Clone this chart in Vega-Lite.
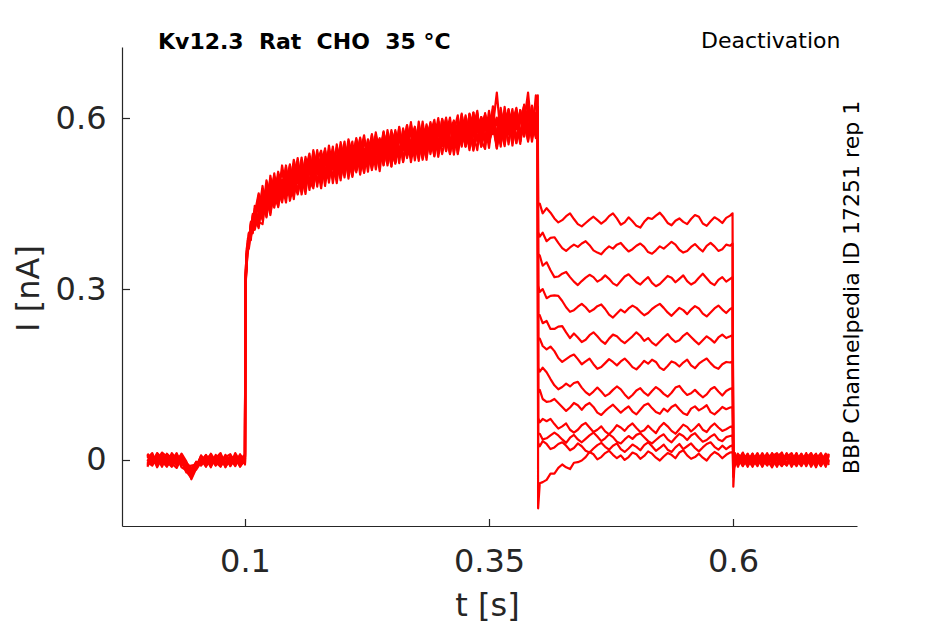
{
  "$schema": "https://vega.github.io/schema/vega-lite/v6.json",
  "width": 735,
  "height": 479,
  "autosize": {"type": "none"},
  "padding": {"left": 122, "top": 47, "right": 88, "bottom": 98},
  "background": "white",
  "config": {
    "view": {"stroke": null},
    "font": "DejaVu Sans",
    "axis": {
      "grid": false,
      "domainColor": "#262626",
      "tickColor": "#262626",
      "labelColor": "#262626",
      "titleColor": "#262626",
      "labelFont": "DejaVu Sans",
      "titleFont": "DejaVu Sans",
      "labelFontSize": 32,
      "titleFontSize": 32,
      "titleFontWeight": "normal",
      "domainWidth": 1.2,
      "tickWidth": 1.2,
      "tickSize": -7.5
    }
  },
  "title": {
    "text": "Kv12.3\u00a0\u00a0Rat\u00a0\u00a0CHO\u00a0\u00a035\u00a0°C",
    "anchor": "start",
    "frame": "group",
    "dx": 36,
    "offset": -42,
    "baseline": "alphabetic",
    "font": "DejaVu Sans",
    "fontSize": 22,
    "fontWeight": "bold",
    "color": "black"
  },
  "data": {
    "values": [
      {"t":0,"a":0.008,"b":-0.009,"c":0.003,"d":-0.004,"e":0.011,"f":-0.007,"g":0.001,"h":0.005,"i":-0.012,"j":0.009,"k":-0.003,"l":-0.006},
      {"t":0.005,"a":-0.006,"b":0.005,"c":0.012,"d":-0.010,"e":0,"f":0.008,"g":-0.008,"h":0.003,"i":0.007,"j":-0.005,"k":0.010,"l":-0.002},
      {"t":0.01,"a":0.012,"b":-0.003,"c":-0.008,"d":0.006,"e":-0.009,"f":-0.013,"g":0.005,"h":-0.005,"i":0.002,"j":0.011,"k":-0.010,"l":0.004},
      {"t":0.015,"a":0.003,"b":0.013,"c":-0.001,"d":-0.012,"e":0.007,"f":0.003,"g":-0.002,"h":0.012,"i":-0.006,"j":-0.004,"k":0.007,"l":-0.010},
      {"t":0.02,"a":-0.010,"b":0.006,"c":0.009,"d":0.011,"e":-0.005,"f":0.001,"g":-0.012,"h":-0.003,"i":0.009,"j":0.003,"k":-0.007,"l":0.010},
      {"t":0.025,"a":-0.002,"b":-0.011,"c":-0.006,"d":0.002,"e":0.009,"f":-0.009,"g":0.006,"h":-0.012,"i":-0.002,"j":0.008,"k":0.012,"l":-0.001},
      {"t":0.03,"a":0.007,"b":-0.001,"c":-0.014,"d":0.005,"e":-0.010,"f":0.010,"g":-0.004,"h":0.007,"i":0.012,"j":-0.009,"k":0.002,"l":-0.006},
      {"t":0.035,"a":-0.013,"b":0.009,"c":0.004,"d":-0.008,"e":0.006,"f":-0.004,"g":0.011,"h":-0.007,"i":-0.009,"j":0.004,"k":-0.002,"l":0.008},
      {"t":0.04,"a":-0.018,"b":-0.006,"c":-0.020,"d":-0.007,"e":-0.012,"f":-0.022,"g":-0.003,"h":-0.013,"i":-0.006,"j":-0.016,"k":-0.009,"l":-0.005},
      {"t":0.045,"a":-0.024,"b":-0.014,"c":-0.032,"d":-0.016,"e":-0.026,"f":-0.018,"g":-0.034,"h":-0.010,"i":-0.022,"j":-0.019,"k":-0.028,"l":-0.015},
      {"t":0.05,"a":-0.009,"b":-0.017,"c":-0.012,"d":-0.004,"e":-0.014,"f":-0.007,"g":-0.015,"h":-0.008,"i":-0.003,"j":-0.012,"k":-0.005,"l":-0.009},
      {"t":0.055,"a":0.004,"b":-0.004,"c":0.007,"d":-0.009,"e":0.001,"f":-0.005,"g":0.008,"h":-0.002,"i":-0.010,"j":0.004,"k":-0.007,"l":0.001},
      {"t":0.06,"a":-0.005,"b":0.008,"c":-0.011,"d":0.003,"e":-0.012,"f":0.007,"g":-0.003,"h":0.009,"i":0.001,"j":-0.008,"k":0.004,"l":-0.010},
      {"t":0.065,"a":0.011,"b":-0.008,"c":0.002,"d":-0.013,"e":0.006,"f":-0.009,"g":0.004,"h":-0.006,"i":0.009,"j":-0.002,"k":-0.011,"l":0.003},
      {"t":0.07,"a":-0.003,"b":0.003,"c":-0.007,"d":0.009,"e":-0.004,"f":0.002,"g":-0.010,"h":0.004,"i":-0.008,"j":0.007,"k":0.001,"l":-0.009},
      {"t":0.075,"a":-0.012,"b":0.012,"c":0.006,"d":-0.004,"e":0.010,"f":-0.007,"g":0.003,"h":-0.011,"i":0.005,"j":-0.005,"k":0.008,"l":-0.003},
      {"t":0.08,"a":0.005,"b":-0.010,"c":-0.013,"d":0.004,"e":-0.007,"f":0.009,"g":-0.006,"h":0.002,"i":-0.012,"j":0.003,"k":-0.005,"l":0.007},
      {"t":0.085,"a":0.010,"b":-0.002,"c":0.003,"d":-0.009,"e":0.002,"f":-0.011,"g":0.008,"h":-0.005,"i":0.004,"j":-0.010,"k":0.006,"l":-0.001},
      {"t":0.09,"a":-0.007,"b":0.006,"c":-0.005,"d":0.012,"e":-0.011,"f":0.003,"g":-0.001,"h":0.008,"i":-0.004,"j":0.005,"k":-0.008,"l":0.004},
      {"t":0.095,"a":0.002,"b":-0.012,"c":0.010,"d":-0.003,"e":0.005,"f":-0.002,"g":-0.008,"h":-0.010,"i":0.007,"j":-0.006,"k":0.003,"l":-0.011},
      {"t":0.1,"a":0.009,"b":0.001,"c":-0.004,"d":0.006,"e":-0.006,"f":0.007,"g":0.005,"h":-0.001,"i":-0.008,"j":0.010,"k":-0.004,"l":0.002},
      {"t":0.1003,"a":0.284,"b":0.296,"c":0.281,"d":0.299,"e":0.290,"f":0.287,"g":0.293,"h":0.279,"i":0.297,"j":0.286,"k":0.294,"l":0.283},
      {"t":0.101,"a":0.322,"b":0.338,"c":0.327,"d":0.341,"e":0.331,"f":0.318,"g":0.335,"h":0.325,"i":0.340,"j":0.329,"k":0.320,"l":0.334},
      {"t":0.102,"a":0.355,"b":0.368,"c":0.349,"d":0.372,"e":0.362,"f":0.351,"g":0.366,"h":0.358,"i":0.374,"j":0.353,"k":0.363,"l":0.347},
      {"t":0.103,"a":0.381,"b":0.370,"c":0.385,"d":0.366,"e":0.377,"f":0.389,"g":0.368,"h":0.380,"i":0.372,"j":0.386,"k":0.364,"l":0.379},
      {"t":0.104,"a":0.378,"b":0.394,"c":0.373,"d":0.398,"e":0.382,"f":0.376,"g":0.397,"h":0.371,"i":0.390,"j":0.380,"k":0.399,"l":0.387},
      {"t":0.106,"a":0.411,"b":0.395,"c":0.416,"d":0.389,"e":0.405,"f":0.418,"g":0.392,"h":0.407,"i":0.386,"j":0.413,"k":0.399,"l":0.396},
      {"t":0.108,"a":0.404,"b":0.428,"c":0.410,"d":0.432,"e":0.401,"f":0.422,"g":0.419,"h":0.398,"i":0.430,"j":0.407,"k":0.425,"l":0.412},
      {"t":0.11,"a":0.441,"b":0.419,"c":0.433,"d":0.408,"e":0.446,"f":0.427,"g":0.411,"h":0.438,"i":0.420,"j":0.404,"k":0.436,"l":0.429},
      {"t":0.114,"a":0.450,"b":0.413,"c":0.468,"d":0.430,"e":0.441,"f":0.407,"g":0.457,"h":0.424,"i":0.465,"j":0.435,"k":0.418,"l":0.446},
      {"t":0.118,"a":0.430,"b":0.470,"c":0.442,"d":0.481,"e":0.421,"f":0.457,"g":0.446,"h":0.476,"i":0.433,"j":0.465,"k":0.414,"l":0.452},
      {"t":0.122,"a":0.483,"b":0.445,"c":0.470,"d":0.426,"e":0.477,"f":0.452,"g":0.432,"h":0.462,"i":0.491,"j":0.437,"k":0.466,"l":0.428},
      {"t":0.126,"a":0.458,"b":0.494,"c":0.434,"d":0.479,"e":0.450,"f":0.488,"g":0.471,"h":0.430,"i":0.462,"j":0.487,"k":0.446,"l":0.499},
      {"t":0.13,"a":0.489,"b":0.453,"c":0.473,"d":0.447,"e":0.503,"f":0.460,"g":0.498,"h":0.480,"i":0.443,"j":0.462,"k":0.492,"l":0.457},
      {"t":0.134,"a":0.444,"b":0.481,"c":0.499,"d":0.476,"e":0.455,"f":0.506,"g":0.461,"h":0.468,"i":0.489,"j":0.446,"k":0.475,"l":0.495},
      {"t":0.138,"a":0.488,"b":0.456,"c":0.465,"d":0.507,"e":0.485,"f":0.478,"g":0.517,"h":0.459,"i":0.470,"j":0.492,"k":0.452,"l":0.475},
      {"t":0.142,"a":0.470,"b":0.502,"c":0.517,"d":0.467,"e":0.452,"f":0.498,"g":0.476,"h":0.509,"i":0.488,"j":0.463,"k":0.500,"l":0.514},
      {"t":0.146,"a":0.519,"b":0.483,"c":0.464,"d":0.498,"e":0.507,"f":0.462,"g":0.490,"h":0.477,"i":0.517,"j":0.495,"k":0.473,"l":0.455},
      {"t":0.15,"a":0.470,"b":0.518,"c":0.500,"d":0.458,"e":0.489,"f":0.512,"g":0.463,"h":0.527,"i":0.480,"j":0.493,"k":0.520,"l":0.485},
      {"t":0.154,"a":0.501,"b":0.466,"c":0.515,"d":0.520,"e":0.475,"f":0.486,"g":0.509,"h":0.494,"i":0.468,"j":0.530,"k":0.490,"l":0.513},
      {"t":0.158,"a":0.516,"b":0.502,"c":0.466,"d":0.487,"e":0.526,"f":0.505,"g":0.481,"h":0.520,"i":0.508,"j":0.475,"k":0.531,"l":0.473},
      {"t":0.162,"a":0.475,"b":0.516,"c":0.504,"d":0.532,"e":0.494,"f":0.467,"g":0.526,"h":0.487,"i":0.520,"j":0.513,"k":0.483,"l":0.507},
      {"t":0.166,"a":0.528,"b":0.486,"c":0.533,"d":0.501,"e":0.517,"f":0.522,"g":0.474,"h":0.512,"i":0.482,"j":0.491,"k":0.508,"l":0.538},
      {"t":0.17,"a":0.499,"b":0.541,"c":0.491,"d":0.528,"e":0.480,"f":0.509,"g":0.518,"h":0.482,"i":0.544,"j":0.477,"k":0.527,"l":0.495},
      {"t":0.174,"a":0.544,"b":0.502,"c":0.521,"d":0.485,"e":0.526,"f":0.488,"g":0.506,"h":0.539,"i":0.504,"j":0.532,"k":0.480,"l":0.519},
      {"t":0.178,"a":0.496,"b":0.533,"c":0.485,"d":0.519,"e":0.543,"f":0.525,"g":0.490,"h":0.503,"i":0.526,"j":0.510,"k":0.538,"l":0.477},
      {"t":0.182,"a":0.518,"b":0.481,"c":0.537,"d":0.497,"e":0.504,"f":0.544,"g":0.531,"h":0.547,"i":0.495,"j":0.542,"k":0.506,"l":0.527},
      {"t":0.186,"a":0.543,"b":0.527,"c":0.505,"d":0.552,"e":0.493,"f":0.500,"g":0.522,"h":0.487,"i":0.540,"j":0.501,"k":0.531,"l":0.514},
      {"t":0.19,"a":0.486,"b":0.516,"c":0.535,"d":0.510,"e":0.527,"f":0.543,"g":0.493,"h":0.537,"i":0.515,"j":0.550,"k":0.496,"l":0.546},
      {"t":0.194,"a":0.532,"b":0.548,"c":0.500,"d":0.535,"e":0.486,"f":0.515,"g":0.554,"h":0.508,"i":0.529,"j":0.496,"k":0.527,"l":0.503},
      {"t":0.198,"a":0.503,"b":0.509,"c":0.558,"d":0.495,"e":0.543,"f":0.533,"g":0.512,"h":0.547,"i":0.491,"j":0.538,"k":0.553,"l":0.525},
      {"t":0.202,"a":0.554,"b":0.541,"c":0.518,"d":0.528,"e":0.509,"f":0.496,"g":0.546,"h":0.520,"i":0.551,"j":0.515,"k":0.504,"l":0.559},
      {"t":0.206,"a":0.520,"b":0.500,"c":0.551,"d":0.554,"e":0.531,"f":0.545,"g":0.494,"h":0.540,"i":0.513,"j":0.563,"k":0.538,"l":0.503},
      {"t":0.21,"a":0.545,"b":0.534,"c":0.499,"d":0.514,"e":0.559,"f":0.517,"g":0.536,"h":0.501,"i":0.548,"j":0.533,"k":0.497,"l":0.549},
      {"t":0.214,"a":0.505,"b":0.563,"c":0.540,"d":0.553,"e":0.508,"f":0.565,"g":0.514,"h":0.534,"i":0.524,"j":0.509,"k":0.548,"l":0.522},
      {"t":0.218,"a":0.539,"b":0.512,"c":0.514,"d":0.501,"e":0.546,"f":0.530,"g":0.560,"h":0.564,"i":0.566,"j":0.542,"k":0.521,"l":0.548},
      {"t":0.222,"a":0.570,"b":0.547,"c":0.562,"d":0.543,"e":0.529,"f":0.510,"g":0.530,"h":0.517,"i":0.511,"j":0.505,"k":0.560,"l":0.504},
      {"t":0.226,"a":0.525,"b":0.506,"c":0.540,"d":0.516,"e":0.562,"f":0.552,"g":0.555,"h":0.546,"i":0.549,"j":0.557,"k":0.533,"l":0.563},
      {"t":0.23,"a":0.558,"b":0.563,"c":0.514,"d":0.570,"e":0.509,"f":0.531,"g":0.511,"h":0.515,"i":0.537,"j":0.526,"k":0.572,"l":0.538},
      {"t":0.234,"a":0.510,"b":0.542,"c":0.554,"d":0.535,"e":0.550,"f":0.568,"g":0.553,"h":0.575,"i":0.571,"j":0.567,"k":0.523,"l":0.559},
      {"t":0.238,"a":0.551,"b":0.526,"c":0.507,"d":0.560,"e":0.565,"f":0.523,"g":0.524,"h":0.536,"i":0.526,"j":0.538,"k":0.551,"l":0.521},
      {"t":0.242,"a":0.541,"b":0.573,"c":0.564,"d":0.518,"e":0.530,"f":0.548,"g":0.574,"h":0.559,"i":0.551,"j":0.577,"k":0.517,"l":0.575},
      {"t":0.246,"a":0.570,"b":0.537,"c":0.536,"d":0.558,"e":0.579,"f":0.567,"g":0.539,"h":0.517,"i":0.521,"j":0.528,"k":0.567,"l":0.535},
      {"t":0.25,"a":0.531,"b":0.568,"c":0.579,"d":0.515,"e":0.544,"f":0.516,"g":0.571,"h":0.554,"i":0.569,"j":0.558,"k":0.545,"l":0.555},
      {"t":0.254,"a":0.579,"b":0.523,"c":0.546,"d":0.574,"e":0.522,"f":0.560,"g":0.535,"h":0.576,"i":0.538,"j":0.522,"k":0.563,"l":0.520},
      {"t":0.258,"a":0.543,"b":0.564,"c":0.568,"d":0.540,"e":0.569,"f":0.535,"g":0.585,"h":0.534,"i":0.583,"j":0.570,"k":0.521,"l":0.574},
      {"t":0.262,"a":0.565,"b":0.551,"c":0.524,"d":0.556,"e":0.559,"f":0.582,"g":0.528,"h":0.574,"i":0.523,"j":0.543,"k":0.579,"l":0.546},
      {"t":0.266,"a":0.530,"b":0.588,"c":0.560,"d":0.534,"e":0.535,"f":0.553,"g":0.557,"h":0.542,"i":0.570,"j":0.582,"k":0.539,"l":0.587},
      {"t":0.27,"a":0.560,"b":0.542,"c":0.538,"d":0.589,"e":0.584,"f":0.529,"g":0.576,"h":0.593,"i":0.550,"j":0.523,"k":0.561,"l":0.540},
      {"t":0.274,"a":0.585,"b":0.576,"c":0.582,"d":0.553,"e":0.547,"f":0.576,"g":0.526,"h":0.536,"i":0.583,"j":0.563,"k":0.533,"l":0.568},
      {"t":0.278,"a":0.544,"b":0.530,"c":0.550,"d":0.574,"e":0.582,"f":0.547,"g":0.568,"h":0.562,"i":0.538,"j":0.539,"k":0.594,"l":0.525},
      {"t":0.282,"a":0.581,"b":0.568,"c":0.594,"d":0.531,"e":0.527,"f":0.586,"g":0.544,"h":0.530,"i":0.571,"j":0.585,"k":0.552,"l":0.579},
      {"t":0.286,"a":0.532,"b":0.586,"c":0.547,"d":0.570,"e":0.563,"f":0.540,"g":0.589,"h":0.577,"i":0.527,"j":0.549,"k":0.581,"l":0.556},
      {"t":0.29,"a":0.573,"b":0.543,"c":0.573,"d":0.587,"e":0.578,"f":0.572,"g":0.554,"h":0.553,"i":0.585,"j":0.593,"k":0.537,"l":0.591},
      {"t":0.294,"a":0.597,"b":0.578,"c":0.533,"d":0.547,"e":0.539,"f":0.534,"g":0.581,"h":0.590,"i":0.561,"j":0.539,"k":0.575,"l":0.541},
      {"t":0.298,"a":0.554,"b":0.532,"c":0.587,"d":0.594,"e":0.594,"f":0.581,"g":0.540,"h":0.550,"i":0.600,"j":0.579,"k":0.546,"l":0.578},
      {"t":0.302,"a":0.585,"b":0.570,"c":0.561,"d":0.557,"e":0.552,"f":0.559,"g":0.599,"h":0.597,"i":0.551,"j":0.561,"k":0.598,"l":0.537},
      {"t":0.306,"a":0.543,"b":0.598,"c":0.597,"d":0.587,"e":0.578,"f":0.601,"g":0.565,"h":0.542,"i":0.576,"j":0.592,"k":0.556,"l":0.571},
      {"t":0.31,"a":0.576,"b":0.557,"c":0.549,"d":0.542,"e":0.537,"f":0.550,"g":0.594,"h":0.581,"i":0.540,"j":0.538,"k":0.593,"l":0.601},
      {"t":0.314,"a":0.596,"b":0.591,"c":0.582,"d":0.577,"e":0.589,"f":0.577,"g":0.536,"h":0.590,"i":0.590,"j":0.579,"k":0.541,"l":0.552},
      {"t":0.318,"a":0.537,"b":0.564,"c":0.544,"d":0.605,"e":0.564,"f":0.545,"g":0.585,"h":0.539,"i":0.561,"j":0.554,"k":0.586,"l":0.595},
      {"t":0.322,"a":0.585,"b":0.608,"c":0.591,"d":0.550,"e":0.599,"f":0.597,"g":0.553,"h":0.581,"i":0.602,"j":0.606,"k":0.568,"l":0.563},
      {"t":0.326,"a":0.555,"b":0.550,"c":0.559,"d":0.585,"e":0.552,"f":0.570,"g":0.605,"h":0.552,"i":0.550,"j":0.573,"k":0.602,"l":0.590},
      {"t":0.33,"a":0.606,"b":0.584,"c":0.607,"d":0.544,"e":0.578,"f":0.589,"g":0.564,"h":0.608,"i":0.588,"j":0.593,"k":0.553,"l":0.548},
      {"t":0.334,"a":0.570,"b":0.546,"c":0.572,"d":0.598,"e":0.610,"f":0.543,"g":0.582,"h":0.573,"i":0.545,"j":0.550,"k":0.583,"l":0.610},
      {"t":0.338,"a":0.592,"b":0.595,"c":0.544,"d":0.579,"e":0.559,"f":0.605,"g":0.613,"h":0.596,"i":0.581,"j":0.604,"k":0.609,"l":0.563},
      {"t":0.342,"a":0.550,"b":0.576,"c":0.602,"d":0.559,"e":0.589,"f":0.569,"g":0.551,"h":0.550,"i":0.602,"j":0.569,"k":0.561,"l":0.586},
      {"t":0.346,"a":0.601,"b":0.606,"c":0.587,"d":0.609,"e":0.553,"f":0.599,"g":0.590,"h":0.592,"i":0.561,"j":0.591,"k":0.546,"l":0.606},
      {"t":0.35,"a":0.578,"b":0.561,"c":0.558,"d":0.568,"e":0.601,"f":0.557,"g":0.562,"h":0.568,"i":0.613,"j":0.548,"k":0.603,"l":0.556},
      {"t":0.354,"a":0.616,"b":0.587,"c":0.608,"d":0.597,"e":0.572,"f":0.586,"g":0.606,"h":0.621,"i":0.574,"j":0.602,"k":0.575,"l":0.593},
      {"t":0.358,"a":0.561,"b":0.547,"c":0.569,"d":0.552,"e":0.597,"f":0.645,"g":0.547,"h":0.562,"i":0.599,"j":0.567,"k":0.601,"l":0.551},
      {"t":0.362,"a":0.592,"b":0.606,"c":0.618,"d":0.608,"e":0.550,"f":0.568,"g":0.587,"h":0.589,"i":0.556,"j":0.613,"k":0.555,"l":0.604},
      {"t":0.366,"a":0.554,"b":0.573,"c":0.565,"d":0.579,"e":0.611,"f":0.606,"g":0.613,"h":0.551,"i":0.595,"j":0.580,"k":0.620,"l":0.577},
      {"t":0.37,"a":0.602,"b":0.616,"c":0.586,"d":0.605,"e":0.571,"f":0.554,"g":0.572,"h":0.608,"i":0.613,"j":0.608,"k":0.574,"l":0.615},
      {"t":0.374,"a":0.573,"b":0.564,"c":0.616,"d":0.552,"e":0.590,"f":0.598,"g":0.607,"h":0.578,"i":0.564,"j":0.558,"k":0.599,"l":0.567},
      {"t":0.378,"a":0.614,"b":0.598,"c":0.561,"d":0.597,"e":0.618,"f":0.581,"g":0.557,"h":0.616,"i":0.592,"j":0.597,"k":0.556,"l":0.613},
      {"t":0.382,"a":0.565,"b":0.560,"c":0.602,"d":0.563,"e":0.568,"f":0.614,"g":0.596,"h":0.572,"i":0.555,"j":0.567,"k":0.614,"l":0.559},
      {"t":0.386,"a":0.594,"b":0.615,"c":0.568,"d":0.622,"e":0.602,"f":0.568,"g":0.622,"h":0.600,"i":0.609,"j":0.624,"k":0.581,"l":0.596},
      {"t":0.39,"a":0.645,"b":0.575,"c":0.610,"d":0.577,"e":0.561,"f":0.625,"g":0.574,"h":0.559,"i":0.579,"j":0.578,"k":0.610,"l":0.564},
      {"t":0.394,"a":0.573,"b":0.610,"c":0.559,"d":0.613,"e":0.614,"f":0.580,"g":0.604,"h":0.610,"i":0.621,"j":0.598,"k":0.565,"l":0.622},
      {"t":0.398,"a":0.602,"b":0.585,"c":0.600,"d":0.573,"e":0.584,"f":0.609,"g":0.568,"h":0.586,"i":0.576,"j":0.565,"k":0.640,"l":0.579},
      {"t":0.4,"a":0.615,"b":0.596,"c":0.640,"d":0.588,"e":0.603,"f":0.575,"g":0.610,"h":0.598,"i":0.582,"j":0.605,"k":0.592,"l":0.620},
      {"t":0.4003,"a":0.448,"b":0.400,"c":0.362,"d":0.306,"e":0.256,"f":0.212,"g":0.162,"h":0.118,"i":0.074,"j":0.046,"k":0.030,"l":-0.085},
      {"t":0.402,"a":0.450,"b":0.392,"c":0.359,"d":0.295,"e":0.254,"f":0.213,"g":0.155,"h":0.123,"i":0.066,"j":0.046,"k":0.024,"l":-0.041},
      {"t":0.405,"a":0.433,"b":0.399,"c":0.341,"d":0.300,"e":0.240,"f":0.200,"g":0.162,"h":0.107,"i":0.072,"j":0.036,"k":0.033,"l":-0.039},
      {"t":0.409,"a":0.442,"b":0.384,"c":0.347,"d":0.284,"e":0.244,"f":0.194,"g":0.154,"h":0.102,"i":0.068,"j":0.038,"k":0.028,"l":-0.035},
      {"t":0.413,"a":0.434,"b":0.390,"c":0.333,"d":0.288,"e":0.230,"f":0.199,"g":0.142,"h":0.103,"i":0.072,"j":0.043,"k":0.019,"l":-0.024},
      {"t":0.417,"a":0.424,"b":0.391,"c":0.321,"d":0.289,"e":0.230,"f":0.191,"g":0.131,"h":0.107,"i":0.063,"j":0.048,"k":0.022,"l":-0.024},
      {"t":0.421,"a":0.417,"b":0.381,"c":0.322,"d":0.288,"e":0.234,"f":0.179,"g":0.124,"h":0.100,"i":0.055,"j":0.043,"k":0.028,"l":-0.014},
      {"t":0.425,"a":0.421,"b":0.372,"c":0.327,"d":0.279,"e":0.235,"f":0.172,"g":0.128,"h":0.093,"i":0.059,"j":0.036,"k":0.031,"l":-0.008},
      {"t":0.429,"a":0.428,"b":0.367,"c":0.330,"d":0.268,"e":0.224,"f":0.177,"g":0.134,"h":0.086,"i":0.064,"j":0.030,"k":0.025,"l":-0.013},
      {"t":0.433,"a":0.433,"b":0.373,"c":0.321,"d":0.260,"e":0.214,"f":0.182,"g":0.129,"h":0.092,"i":0.053,"j":0.039,"k":0.017,"l":-0.016},
      {"t":0.437,"a":0.423,"b":0.378,"c":0.313,"d":0.263,"e":0.222,"f":0.185,"g":0.135,"h":0.100,"i":0.048,"j":0.044,"k":0.021,"l":-0.005},
      {"t":0.441,"a":0.414,"b":0.374,"c":0.307,"d":0.269,"e":0.215,"f":0.177,"g":0.137,"h":0.096,"i":0.053,"j":0.036,"k":0.029,"l":-0.004},
      {"t":0.445,"a":0.410,"b":0.380,"c":0.314,"d":0.274,"e":0.207,"f":0.168,"g":0.127,"h":0.088,"i":0.061,"j":0.031,"k":0.024,"l":-0.001},
      {"t":0.449,"a":0.416,"b":0.384,"c":0.320,"d":0.268,"e":0.211,"f":0.173,"g":0.119,"h":0.096,"i":0.065,"j":0.037,"k":0.016,"l":0.005},
      {"t":0.453,"a":0.422,"b":0.377,"c":0.325,"d":0.260,"e":0.219,"f":0.178,"g":0.114,"h":0.100,"i":0.057,"j":0.043,"k":0.013,"l":0.014},
      {"t":0.457,"a":0.427,"b":0.368,"c":0.321,"d":0.264,"e":0.224,"f":0.168,"g":0.120,"h":0.093,"i":0.049,"j":0.048,"k":0.020,"l":0.010},
      {"t":0.461,"a":0.421,"b":0.364,"c":0.313,"d":0.270,"e":0.217,"f":0.160,"g":0.127,"h":0.083,"i":0.053,"j":0.041,"k":0.026,"l":0.001},
      {"t":0.465,"a":0.415,"b":0.361,"c":0.317,"d":0.273,"e":0.209,"f":0.163,"g":0.120,"h":0.079,"i":0.059,"j":0.033,"k":0.030,"l":0.005},
      {"t":0.469,"a":0.420,"b":0.369,"c":0.324,"d":0.265,"e":0.204,"f":0.170,"g":0.112,"h":0.086,"i":0.050,"j":0.038,"k":0.023,"l":0.012},
      {"t":0.473,"a":0.428,"b":0.375,"c":0.318,"d":0.255,"e":0.213,"f":0.177,"g":0.116,"h":0.092,"i":0.045,"j":0.045,"k":0.018,"l":0.016},
      {"t":0.477,"a":0.433,"b":0.371,"c":0.310,"d":0.250,"e":0.220,"f":0.172,"g":0.123,"h":0.097,"i":0.052,"j":0.040,"k":0.025,"l":0.009},
      {"t":0.481,"a":0.424,"b":0.378,"c":0.306,"d":0.257,"e":0.217,"f":0.166,"g":0.129,"h":0.090,"i":0.061,"j":0.032,"k":0.029,"l":0.003},
      {"t":0.485,"a":0.413,"b":0.381,"c":0.314,"d":0.264,"e":0.210,"f":0.173,"g":0.124,"h":0.083,"i":0.057,"j":0.029,"k":0.019,"l":0.008},
      {"t":0.489,"a":0.417,"b":0.373,"c":0.322,"d":0.259,"e":0.205,"f":0.178,"g":0.115,"h":0.089,"i":0.051,"j":0.036,"k":0.014,"l":0.000},
      {"t":0.493,"a":0.426,"b":0.366,"c":0.326,"d":0.266,"e":0.211,"f":0.171,"g":0.108,"h":0.094,"i":0.059,"j":0.042,"k":0.020,"l":0.005},
      {"t":0.497,"a":0.419,"b":0.370,"c":0.319,"d":0.271,"e":0.217,"f":0.163,"g":0.114,"h":0.085,"i":0.064,"j":0.037,"k":0.027,"l":0.013},
      {"t":0.501,"a":0.411,"b":0.376,"c":0.312,"d":0.267,"e":0.224,"f":0.159,"g":0.122,"h":0.080,"i":0.056,"j":0.044,"k":0.023,"l":0.010},
      {"t":0.505,"a":0.408,"b":0.380,"c":0.308,"d":0.260,"e":0.218,"f":0.166,"g":0.126,"h":0.088,"i":0.049,"j":0.047,"k":0.017,"l":0.002},
      {"t":0.509,"a":0.418,"b":0.374,"c":0.315,"d":0.254,"e":0.209,"f":0.174,"g":0.118,"h":0.096,"i":0.052,"j":0.040,"k":0.026,"l":0.007},
      {"t":0.513,"a":0.425,"b":0.365,"c":0.321,"d":0.258,"e":0.214,"f":0.169,"g":0.113,"h":0.099,"i":0.060,"j":0.033,"k":0.031,"l":0.015},
      {"t":0.517,"a":0.423,"b":0.362,"c":0.311,"d":0.265,"e":0.206,"f":0.176,"g":0.121,"h":0.091,"i":0.053,"j":0.029,"k":0.024,"l":0.011},
      {"t":0.521,"a":0.429,"b":0.368,"c":0.305,"d":0.270,"e":0.201,"f":0.172,"g":0.128,"h":0.084,"i":0.047,"j":0.035,"k":0.016,"l":0.004},
      {"t":0.525,"a":0.434,"b":0.375,"c":0.309,"d":0.274,"e":0.208,"f":0.162,"g":0.123,"h":0.081,"i":0.058,"j":0.041,"k":0.021,"l":-0.001},
      {"t":0.529,"a":0.426,"b":0.371,"c":0.316,"d":0.267,"e":0.215,"f":0.158,"g":0.116,"h":0.090,"i":0.065,"j":0.045,"k":0.027,"l":0.006},
      {"t":0.533,"a":0.416,"b":0.377,"c":0.323,"d":0.259,"e":0.221,"f":0.165,"g":0.111,"h":0.085,"i":0.059,"j":0.036,"k":0.018,"l":0.012},
      {"t":0.537,"a":0.412,"b":0.383,"c":0.320,"d":0.253,"e":0.213,"f":0.173,"g":0.118,"h":0.093,"i":0.051,"j":0.031,"k":0.014,"l":0.009},
      {"t":0.541,"a":0.420,"b":0.378,"c":0.312,"d":0.260,"e":0.207,"f":0.170,"g":0.127,"h":0.097,"i":0.046,"j":0.039,"k":0.022,"l":0.003},
      {"t":0.545,"a":0.424,"b":0.369,"c":0.318,"d":0.267,"e":0.210,"f":0.164,"g":0.130,"h":0.089,"i":0.054,"j":0.046,"k":0.028,"l":0.013},
      {"t":0.549,"a":0.418,"b":0.364,"c":0.324,"d":0.263,"e":0.218,"f":0.171,"g":0.121,"h":0.082,"i":0.062,"j":0.042,"k":0.019,"l":0.017},
      {"t":0.553,"a":0.414,"b":0.367,"c":0.314,"d":0.256,"e":0.223,"f":0.176,"g":0.114,"h":0.079,"i":0.058,"j":0.035,"k":0.024,"l":0.008},
      {"t":0.557,"a":0.423,"b":0.374,"c":0.308,"d":0.264,"e":0.216,"f":0.166,"g":0.117,"h":0.090,"i":0.050,"j":0.043,"k":0.029,"l":0.002},
      {"t":0.561,"a":0.430,"b":0.379,"c":0.312,"d":0.270,"e":0.209,"f":0.161,"g":0.123,"h":0.094,"i":0.056,"j":0.047,"k":0.021,"l":0.005},
      {"t":0.565,"a":0.427,"b":0.372,"c":0.320,"d":0.266,"e":0.203,"f":0.169,"g":0.116,"h":0.087,"i":0.063,"j":0.039,"k":0.015,"l":0.011},
      {"t":0.569,"a":0.415,"b":0.366,"c":0.327,"d":0.257,"e":0.210,"f":0.174,"g":0.110,"h":0.091,"i":0.053,"j":0.032,"k":0.022,"l":0.004},
      {"t":0.573,"a":0.411,"b":0.376,"c":0.319,"d":0.252,"e":0.217,"f":0.178,"g":0.115,"h":0.096,"i":0.049,"j":0.035,"k":0.028,"l":-0.001},
      {"t":0.577,"a":0.419,"b":0.381,"c":0.311,"d":0.259,"e":0.212,"f":0.170,"g":0.124,"h":0.084,"i":0.058,"j":0.041,"k":0.031,"l":0.008},
      {"t":0.581,"a":0.426,"b":0.375,"c":0.307,"d":0.266,"e":0.206,"f":0.163,"g":0.128,"h":0.080,"i":0.064,"j":0.045,"k":0.023,"l":0.014},
      {"t":0.585,"a":0.422,"b":0.367,"c":0.316,"d":0.271,"e":0.215,"f":0.160,"g":0.120,"h":0.086,"i":0.057,"j":0.036,"k":0.018,"l":0.010},
      {"t":0.589,"a":0.416,"b":0.370,"c":0.321,"d":0.264,"e":0.220,"f":0.168,"g":0.113,"h":0.093,"i":0.051,"j":0.033,"k":0.025,"l":0.003},
      {"t":0.593,"a":0.425,"b":0.378,"c":0.313,"d":0.258,"e":0.214,"f":0.172,"g":0.121,"h":0.089,"i":0.054,"j":0.040,"k":0.019,"l":0.009},
      {"t":0.597,"a":0.429,"b":0.376,"c":0.318,"d":0.265,"e":0.217,"f":0.171,"g":0.125,"h":0.092,"i":0.058,"j":0.042,"k":0.024,"l":0.013},
      {"t":0.5995,"a":0.433,"b":0.380,"c":0.321,"d":0.267,"e":0.219,"f":0.173,"g":0.126,"h":0.093,"i":0.059,"j":0.043,"k":0.026,"l":0.014},
      {"t":0.6003,"a":-0.047,"b":-0.020,"c":-0.012,"d":0.005,"e":-0.010,"f":0.002,"g":-0.015,"h":-0.005,"i":0.008,"j":-0.008,"k":0.003,"l":-0.030},
      {"t":0.602,"a":0.010,"b":-0.006,"c":0.003,"d":-0.010,"e":0.006,"f":-0.003,"g":0.012,"h":-0.008,"i":0.001,"j":0.007,"k":-0.004,"l":0.004},
      {"t":0.605,"a":-0.008,"b":0.005,"c":-0.012,"d":0.007,"e":-0.003,"f":0.011,"g":-0.005,"h":0.002,"i":-0.009,"j":0.003,"k":0.009,"l":-0.006},
      {"t":0.61,"a":0.004,"b":-0.011,"c":0.009,"d":-0.001,"e":0.013,"f":-0.007,"g":0.002,"h":-0.006,"i":0.008,"j":-0.010,"k":0.005,"l":0.011},
      {"t":0.615,"a":-0.012,"b":0.008,"c":-0.003,"d":0.011,"e":-0.006,"f":0.004,"g":-0.009,"h":0.010,"i":-0.005,"j":0.002,"k":-0.009,"l":-0.002},
      {"t":0.62,"a":0.007,"b":-0.002,"c":0.011,"d":-0.008,"e":0.002,"f":-0.012,"g":0.009,"h":-0.004,"i":0.011,"j":-0.007,"k":0.004,"l":-0.010},
      {"t":0.625,"a":-0.004,"b":0.012,"c":-0.007,"d":0.003,"e":-0.011,"f":0.006,"g":-0.001,"h":0.009,"i":-0.009,"j":0.010,"k":-0.003,"l":0.006},
      {"t":0.63,"a":0.012,"b":-0.005,"c":0.001,"d":-0.011,"e":0.008,"f":-0.002,"g":0.006,"h":-0.012,"i":0.004,"j":-0.004,"k":0.010,"l":-0.008},
      {"t":0.635,"a":-0.002,"b":0.003,"c":-0.010,"d":0.008,"e":-0.005,"f":0.012,"g":-0.008,"h":0.005,"i":0,"j":0.009,"k":-0.006,"l":0.002},
      {"t":0.64,"a":-0.010,"b":0.009,"c":0.006,"d":-0.004,"e":0.012,"f":-0.007,"g":0.003,"h":-0.002,"i":-0.013,"j":0.005,"k":0.011,"l":-0.004},
      {"t":0.645,"a":0.005,"b":-0.009,"c":0.012,"d":-0.006,"e":0,"f":0.008,"g":-0.012,"h":0.007,"i":0.003,"j":-0.008,"k":-0.001,"l":0.010},
      {"t":0.65,"a":0.013,"b":-0.001,"c":-0.004,"d":0.009,"e":-0.008,"f":0.003,"g":0.007,"h":-0.010,"i":0.006,"j":-0.002,"k":-0.011,"l":0.005},
      {"t":0.655,"a":-0.006,"b":0.007,"c":-0.009,"d":0.002,"e":0.011,"f":-0.010,"g":0.004,"h":0.005,"i":-0.007,"j":0.012,"k":0.003,"l":-0.006},
      {"t":0.66,"a":0.002,"b":-0.012,"c":0.008,"d":-0.005,"e":-0.003,"f":0.006,"g":-0.009,"h":0.012,"i":0.001,"j":-0.008,"k":0.007,"l":-0.003},
      {"t":0.665,"a":-0.011,"b":0.004,"c":-0.001,"d":0.012,"e":-0.009,"f":0.001,"g":0.010,"h":-0.005,"i":0.009,"j":-0.003,"k":-0.008,"l":0.011},
      {"t":0.67,"a":0.006,"b":-0.006,"c":0.010,"d":-0.009,"e":0.004,"f":-0.011,"g":-0.003,"h":0.008,"i":-0.006,"j":0.011,"k":0.002,"l":-0.007},
      {"t":0.675,"a":-0.003,"b":0.010,"c":-0.008,"d":0.001,"e":0.008,"f":0.005,"g":-0.007,"h":-0.011,"i":0.012,"j":-0.004,"k":0.009,"l":0.003},
      {"t":0.68,"a":0.011,"b":-0.003,"c":0.004,"d":-0.007,"e":-0.012,"f":0.009,"g":0.002,"h":0.006,"i":-0.009,"j":0.007,"k":-0.005,"l":0.012},
      {"t":0.685,"a":-0.007,"b":0.006,"c":-0.013,"d":0.009,"e":0.003,"f":-0.006,"g":0.011,"h":-0.002,"i":0.004,"j":-0.009,"k":0.001,"l":-0.006},
      {"t":0.69,"a":0.003,"b":-0.010,"c":0.007,"d":-0.003,"e":0.010,"f":-0.002,"g":-0.008,"h":0.005,"i":-0.011,"j":0.002,"k":0.012,"l":-0.001},
      {"t":0.695,"a":-0.009,"b":0.002,"c":-0.002,"d":0.011,"e":-0.006,"f":0.007,"g":0.004,"h":-0.012,"i":0.006,"j":-0.004,"k":-0.007,"l":0.009},
      {"t":0.698,"a":0.008,"b":-0.007,"c":0.005,"d":-0.004,"e":0.002,"f":-0.009,"g":-0.002,"h":0.010,"i":-0.003,"j":0.011,"k":0,"l":-0.005}
    ]
  },
  "layer": [
    {
      "transform": [
        {"fold": ["a", "b", "c", "d", "e", "f", "g", "h", "i", "j", "k", "l"], "as": ["sweep", "I"]}
      ],
      "mark": {"type": "line", "color": "#ff0000", "strokeWidth": 2.2, "strokeJoin": "round"},
      "encoding": {
        "x": {
          "field": "t",
          "type": "quantitative",
          "scale": {"domain": [-0.026, 0.727], "nice": false, "zero": false},
          "axis": {
            "values": [0.1, 0.35, 0.6],
            "format": ".2~f",
            "title": "t [s]",
            "labelBaseline": "alphabetic",
            "labelPadding": 53,
            "titleX": 365,
            "titleY": 89,
            "titleAlign": "center",
            "titleBaseline": "alphabetic"
          }
        },
        "y": {
          "field": "I",
          "type": "quantitative",
          "scale": {"domain": [-0.116, 0.725], "nice": false, "zero": false},
          "axis": {
            "values": [0, 0.3, 0.6],
            "format": ".1~f",
            "title": "I [nA]",
            "labelPadding": 23.5,
            "titleAngle": 270,
            "titleX": -84,
            "titleY": 241,
            "titleAlign": "center",
            "titleBaseline": "alphabetic"
          }
        },
        "detail": {"field": "sweep", "type": "nominal"}
      }
    },
    {
      "transform": [{"filter": "datum.t == 0"}],
      "mark": {"type": "point", "opacity": 0},
      "encoding": {
        "x": {
          "field": "t",
          "type": "quantitative",
          "scale": {"domain": [-0.026, 0.727], "nice": false, "zero": false},
          "axis": {
            "orient": "top",
            "title": "Deactivation",
            "domain": false,
            "ticks": false,
            "labels": false,
            "titleFontSize": 22,
            "titleColor": "black",
            "titleX": 718,
            "titleY": 0,
            "titleAlign": "right",
            "titleBaseline": "alphabetic"
          }
        },
        "y": {
          "field": "a",
          "type": "quantitative",
          "scale": {"domain": [-0.116, 0.725], "nice": false, "zero": false},
          "axis": {
            "orient": "right",
            "title": "BBP Channelpedia ID 17251 rep 1",
            "domain": false,
            "ticks": false,
            "labels": false,
            "titleFontSize": 22,
            "titleColor": "black",
            "titleAngle": 270,
            "titleX": 1,
            "titleY": 240,
            "titleAlign": "center",
            "titleBaseline": "alphabetic"
          }
        }
      }
    }
  ],
  "resolve": {"axis": {"x": "independent", "y": "independent"}}
}
